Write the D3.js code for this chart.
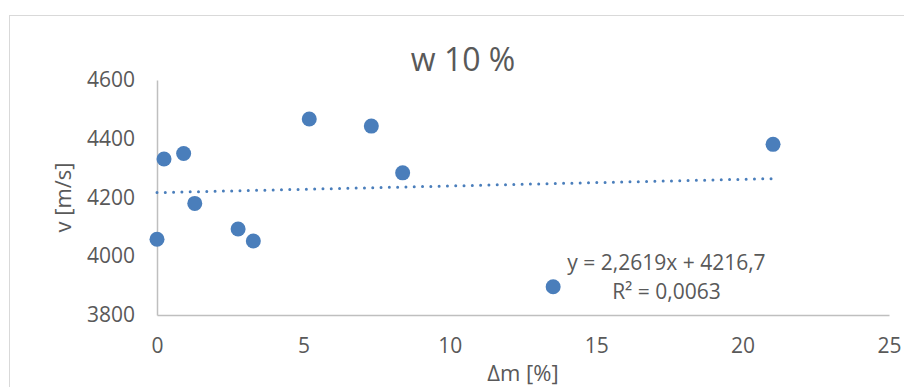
<!DOCTYPE html>
<html>
<head>
<meta charset="utf-8">
<script src="https://cdn.jsdelivr.net/npm/d3@7"></script>
<style>
  body { margin: 0; background: #fff; }
  text { font-family: "Open Sans", sans-serif; fill: #595959; }
</style>
</head>
<body>
<div id="chart"></div>
<script>
// Data
const dm = [0, 0.24, 0.91, 1.29, 2.77, 3.29, 5.2, 7.32, 8.39, 13.53, 21.04];
const v = [4058, 4331, 4350, 4180, 4093, 4052, 4467, 4443, 4284, 3896, 4381];
const xTicks = [0, 5, 10, 15, 20, 25];
const yTicks = [3800, 4000, 4200, 4400, 4600];
const slope = 2.2619, intercept = 4216.7;
const eqLabel = "y = 2,2619x + 4216,7";
const r2Label = "R² = 0,0063";

const W = 904, H = 387;
const margin = {top: 80, right: 15, bottom: 72, left: 157};
const width = W - margin.left - margin.right,
    height = H - margin.top - margin.bottom;

const svg = d3.select("#chart").append("svg")
    .attr("width", W)
    .attr("height", H);

// chart frame
svg.append("rect")
    .attr("x", 9.5).attr("y", 15.5)
    .attr("width", W + 10).attr("height", H + 10)
    .attr("fill", "none")
    .attr("stroke", "#d9d9d9");

const g = svg.append("g")
    .attr("transform", "translate(" + margin.left + "," + margin.top + ")");

const x = d3.scaleLinear().domain([0, 25]).range([0, width]);
const y = d3.scaleLinear().domain([3800, 4600]).range([height, 0]);

// axes
const xAxis = g.append("g")
    .attr("transform", "translate(0," + height + ")")
    .call(d3.axisBottom(x).tickValues(xTicks).tickSize(0).tickFormat(d3.format("d")));
const yAxis = g.append("g")
    .call(d3.axisLeft(y).tickValues(yTicks).tickSize(0).tickPadding(22).tickFormat(d3.format("d")));

[xAxis, yAxis].forEach(a => {
    a.select(".domain").attr("stroke", "#bfbfbf").attr("stroke-width", 1.5);
    a.selectAll("text")
        .style("font-family", "'Open Sans', sans-serif")
        .style("font-size", "21px")
        .attr("fill", "#595959");
});
xAxis.selectAll("text").attr("dy", "0.35em").attr("y", 31);

// trendline
const line = d3.line().x(d => x(d)).y(d => y(slope * d + intercept));
g.append("path")
    .datum([0, d3.max(dm)])
    .attr("d", line)
    .attr("fill", "none")
    .attr("stroke", "#4a7ebb")
    .attr("stroke-width", 3)
    .attr("stroke-linecap", "round")
    .attr("stroke-dasharray", "0,8.3");

// points
g.selectAll("circle")
    .data(dm.map((d, i) => ({x: d, y: v[i]})))
    .join("circle")
    .attr("cx", d => x(d.x))
    .attr("cy", d => y(d.y))
    .attr("r", 7.5)
    .attr("fill", "#4a7ebb");

// equation labels
g.append("text")
    .attr("x", x(17.4)).attr("y", y(3977))
    .attr("text-anchor", "middle")
    .attr("dy", "0.35em")
    .style("font-size", "21px")
    .text(eqLabel);
g.append("text")
    .attr("x", x(17.4)).attr("y", y(3878))
    .attr("text-anchor", "middle")
    .attr("dy", "0.35em")
    .style("font-size", "21px")
    .text(r2Label);

// title
svg.append("text")
    .attr("x", margin.left + width / 2 - 60)
    .attr("y", 60)
    .attr("text-anchor", "middle")
    .attr("dy", "0.35em")
    .style("font-size", "32px")
    .text("w 10 %");

// axis titles
svg.append("text")
    .attr("transform", "translate(63," + (margin.top + height / 2) + ") rotate(-90)")
    .attr("text-anchor", "middle")
    .attr("dy", "0.35em")
    .style("font-size", "22px")
    .text("v [m/s]");
svg.append("text")
    .attr("x", margin.left + width / 2)
    .attr("y", 373)
    .attr("text-anchor", "middle")
    .attr("dy", "0.35em")
    .style("font-size", "22px")
    .text("Δm [%]");
</script>
</body>
</html>
